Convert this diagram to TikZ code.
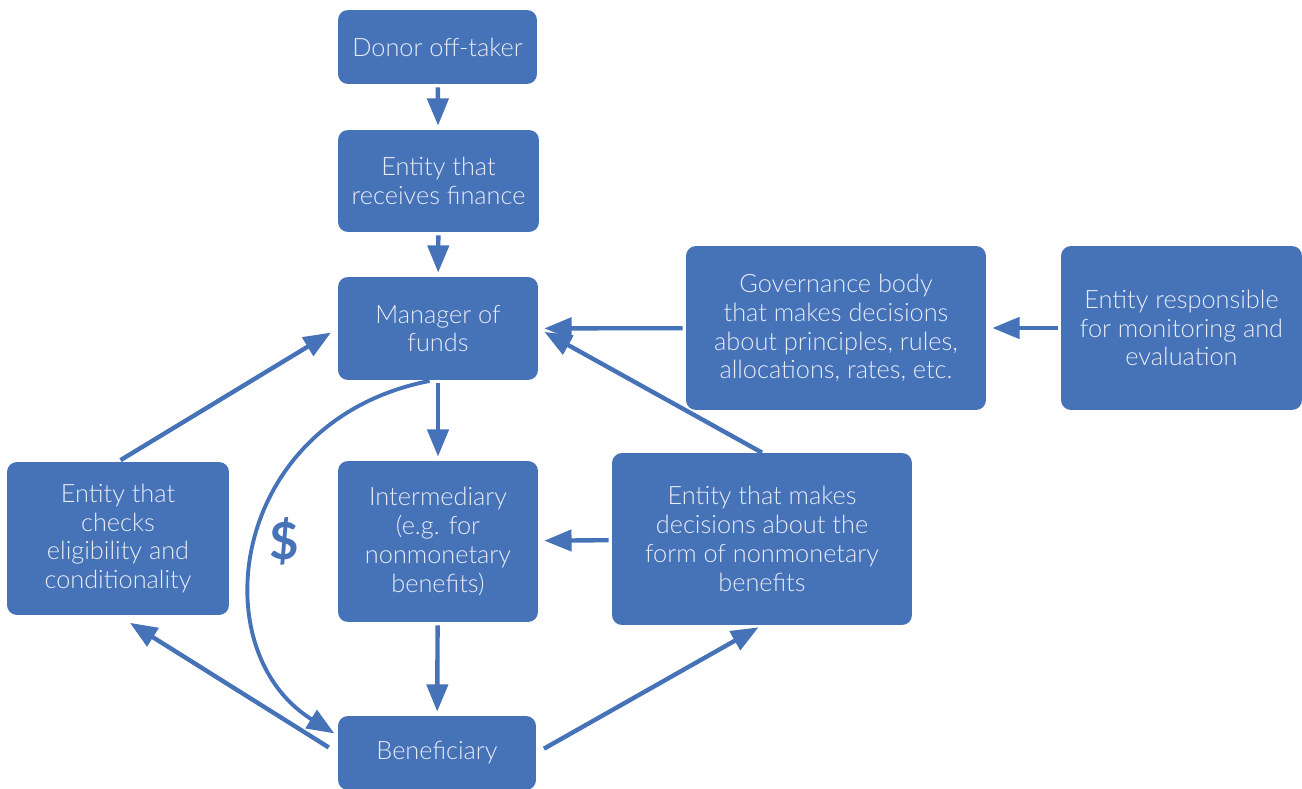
\documentclass[tikz,border=0pt]{standalone}
\usepackage{fontspec}
\setmainfont{Lato}[UprightFont=* Light,BoldFont=* Bold]
\usetikzlibrary{arrows.meta}
\definecolor{boxblue}{HTML}{4672B8}
\definecolor{boxtext}{HTML}{E8ECF7}
\begin{document}
\begin{tikzpicture}[x=0.02cm,y=-0.02cm,
    box/.style={fill=boxblue,rounded corners=0.2cm,text=boxtext,align=center,
      inner sep=2pt,font=\fontsize{14.4}{16.4}\selectfont},
    flow/.style={draw=boxblue,line width=2.5pt,shorten <=1.7pt,shorten >=2.3pt,
      -{Triangle[length=15.5pt,width=12pt]}}]
 \useasboundingbox (0,0) rectangle (1302,788);
 % boxes
 \node[box,minimum width=3.98cm,minimum height=1.48cm] (donor) at (437.5,47) {Donor off-taker};
 \node[box,minimum width=4.02cm,minimum height=2.04cm] (finance) at (438.5,181) {Entity that\\receives finance};
 \node[box,minimum width=4cm,minimum height=2.06cm] (manager) at (438,328.5) {Manager of\\funds};
 \node[box,minimum width=6cm,minimum height=3.28cm] (governance) at (836,328)
   {Governance body\\that makes decisions\\about principles, rules,\\allocations, rates, etc.};
 \node[box,minimum width=4.82cm,minimum height=3.28cm] (monitoring) at (1181.5,328)
   {Entity responsible\\for monitoring and\\evaluation};
 \node[box,minimum width=4.44cm,minimum height=3.06cm] (checks) at (118,538.5)
   {Entity that\\checks\\eligibility and\\conditionality};
 \node[box,minimum width=4cm,minimum height=3.22cm] (intermediary) at (438,541.5)
   {Intermediary\\(e.g. for\\nonmonetary\\benefits)};
 \node[box,minimum width=6cm,minimum height=3.44cm] (decisions) at (762,539)
   {Entity that makes\\decisions about the\\form of nonmonetary\\benefits};
 \node[box,minimum width=3.96cm,minimum height=1.48cm] (beneficiary) at (437,753) {Beneficiary};
 \node[text=boxblue,font=\fontsize{29}{29}\selectfont\bfseries] (dollar) at (284,541) {\$};
 % connectors
 \foreach \a/\b in {donor/finance,finance/manager,manager/intermediary,intermediary/beneficiary}
   \draw[flow] (\a) -- (\b);
 \foreach \a/\b in {governance/manager,monitoring/governance,decisions/intermediary}
   \draw[flow,shorten >=3.4pt] (\a) -- (\b);
 \draw[flow,shorten >=4.5pt] (checks.north) -- (manager.west);
 \draw[flow,shorten <=6pt,shorten >=8pt] (beneficiary.west) -- (checks.south);
 \draw[flow,shorten <=5pt] (beneficiary.east) -- (decisions.south);
 \draw[flow,shorten <=0pt,shorten >=4pt] (decisions.north) -- (manager.east);
 \draw[flow,line width=2.2pt] (manager.-96) .. controls (230,420) and (200,650) .. (beneficiary.170);
\end{tikzpicture}
\end{document}
